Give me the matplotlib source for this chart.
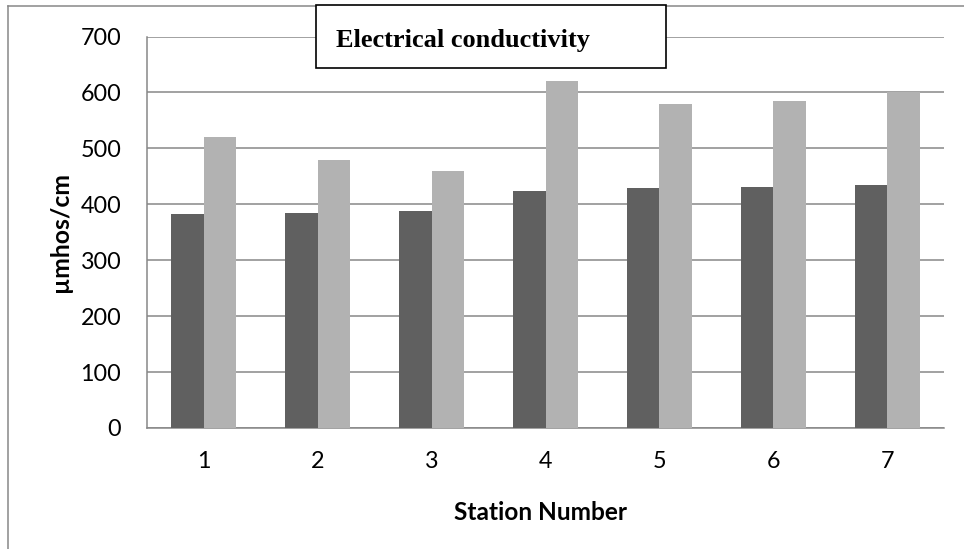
import matplotlib
matplotlib.use("Agg")
import matplotlib.pyplot as plt
from matplotlib.patches import Rectangle
from matplotlib.lines import Line2D

stations = ["1", "2", "3", "4", "5", "6", "7"]
series_dark = [383, 384, 388, 423, 430, 431, 434]
series_light = [520, 480, 460, 620, 580, 585, 600]
y_ticks = [0, 100, 200, 300, 400, 500, 600, 700]
title_text = "Electrical conductivity"
x_label = "Station Number"
y_label = "µmhos/cm"

W, H = 964, 549
fig = plt.figure(figsize=(W / 100, H / 100), dpi=100)
fig.patch.set_facecolor("white")

def fx(px):
    return px / W

def fy(py):
    return 1 - py / H

ax = fig.add_axes([fx(147), fy(428), fx(944) - fx(147), fy(36.5) - fy(428)])

grid_c = "#878787"
bw = 1 / 3.5
xs = list(range(1, len(stations) + 1))
ax.bar([x - bw / 2 for x in xs], series_dark, width=bw, color="#606060", zorder=3)
ax.bar([x + bw / 2 for x in xs], series_light, width=bw, color="#b2b2b2", zorder=3)

ax.set_xlim(0.5, len(stations) + 0.5)
ax.set_ylim(0, 700)
ax.set_yticks(y_ticks)
ax.set_xticks(xs)
ax.set_xticklabels(stations)
ax.yaxis.grid(True, color=grid_c, linewidth=1.1, zorder=0)
ax.set_axisbelow(True)
for s in ["top", "right"]:
    ax.spines[s].set_visible(False)
for s in ["left", "bottom"]:
    ax.spines[s].set_color(grid_c)
    ax.spines[s].set_linewidth(1.1)
ax.tick_params(axis="both", length=0, labelsize=16.8, colors="black")
ax.tick_params(axis="y", pad=18.5)
ax.tick_params(axis="x", pad=16.5)
for lab in ax.get_xticklabels() + ax.get_yticklabels():
    lab.set_family("Lato")

fig.text(fx(540), fy(513), x_label, ha="center", va="center",
         fontsize=17.6, fontweight="bold", family="Lato")
fig.text(fx(60), fy(232.5), y_label, ha="center", va="center", rotation=90,
         fontsize=17.8, fontweight="bold", family="Lato")

# outer frame (top and left visible)
fig.add_artist(Line2D([fx(8), 1], [fy(6), fy(6)], color=grid_c, lw=1.1,
                      transform=fig.transFigure))
fig.add_artist(Line2D([fx(8), fx(8)], [fy(6), 0], color=grid_c, lw=1.1,
                      transform=fig.transFigure))

# title box
fig.add_artist(Rectangle((fx(316), fy(68)), fx(666) - fx(316), fy(5) - fy(68),
                         facecolor="white", edgecolor="black", lw=1.2,
                         transform=fig.transFigure, zorder=5))
fig.text(fx(336), fy(47), title_text, ha="left", va="baseline",
         fontsize=19, fontweight="bold", family="Liberation Serif", zorder=6)

fig.savefig("out.png", dpi=100)
